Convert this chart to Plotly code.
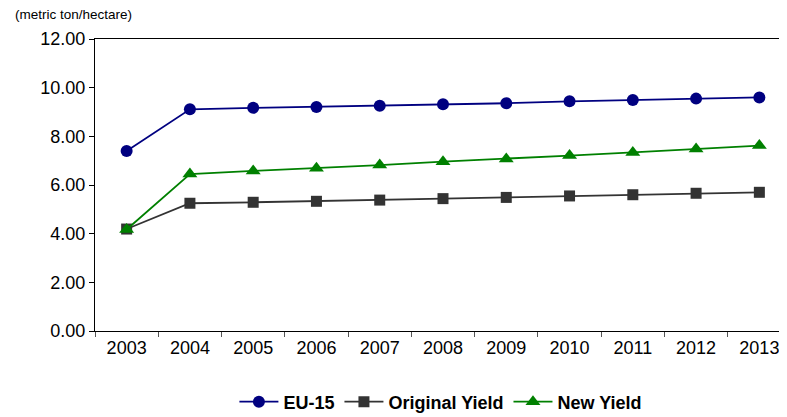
import plotly.graph_objects as go

years = ["2003", "2004", "2005", "2006", "2007", "2008", "2009", "2010", "2011", "2012", "2013"]
eu15 = [7.40, 9.11, 9.17, 9.21, 9.26, 9.32, 9.36, 9.44, 9.49, 9.55, 9.60]
original_yield = [4.19, 5.25, 5.29, 5.33, 5.38, 5.44, 5.49, 5.55, 5.60, 5.66, 5.70]
new_yield = [4.17, 6.45, 6.58, 6.69, 6.82, 6.96, 7.07, 7.21, 7.34, 7.48, 7.62]
y_ticks = [0, 2, 4, 6, 8, 10, 12]

FONT = "Liberation Sans, Arial, sans-serif"

fig = go.Figure()
fig.add_trace(go.Scatter(
    x=years, y=eu15, name="EU-15", mode="lines+markers",
    line=dict(color="#000080", width=1.8),
    marker=dict(symbol="circle", size=12, color="#000080"),
))
fig.add_trace(go.Scatter(
    x=years, y=original_yield, name="Original Yield", mode="lines+markers",
    line=dict(color="#333333", width=1.8),
    marker=dict(symbol="square", size=11, color="#333333"),
))
fig.add_trace(go.Scatter(
    x=years, y=new_yield, name="New Yield", mode="lines+markers",
    line=dict(color="#008000", width=1.8),
    marker=dict(symbol="triangle-up", size=13, color="#008000"),
))

fig.update_layout(
    width=787, height=417,
    margin=dict(l=87, r=4, t=31, b=94, autoexpand=False),
    paper_bgcolor="white", plot_bgcolor="white",
    font=dict(family=FONT, color="black", size=18),
    title=dict(text="(metric ton/hectare)", x=7/787, xanchor="left", xref="container",
               y=1 - 6/417, yanchor="middle", yref="container",
               font=dict(family=FONT, size=13.5, color="black")),
    showlegend=True,
    legend=dict(orientation="h", x=0.497, xanchor="center", y=-0.243, yanchor="middle",
                font=dict(family=FONT, size=18, color="black", weight="bold"),
                bgcolor="rgba(0,0,0,0)", itemwidth=39, tracegroupgap=0),
    xaxis=dict(type="category", range=[-0.5, 10.5], showgrid=False, zeroline=False,
               automargin=False,
               showline=True, linecolor="black", linewidth=1.3, mirror=True,
               ticks="outside", tickson="boundaries", ticklen=5, tickcolor="#555555",
               tickfont=dict(size=18)),
    yaxis=dict(range=[0, 12], tickvals=y_ticks, tickformat=".2f", showgrid=False,
               automargin=False,
               zeroline=False, showline=True, linecolor="black", linewidth=1.3,
               ticks="outside", ticklen=5, tickcolor="black", tickfont=dict(size=18)),
)

fig.write_html("out.html")
